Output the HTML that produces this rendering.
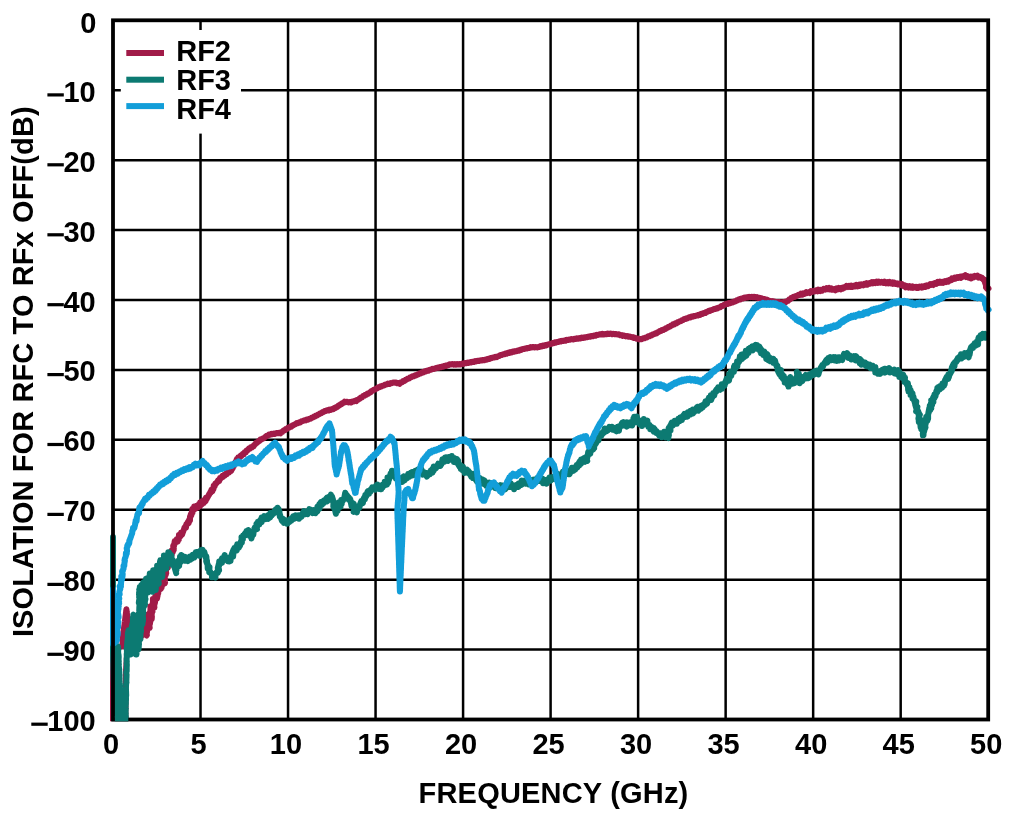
<!DOCTYPE html>
<html><head><meta charset="utf-8"><title>Isolation vs Frequency</title>
<style>
html,body{margin:0;padding:0;background:#fff;}
body{width:1033px;height:824px;position:relative;overflow:hidden;font-family:"Liberation Sans",sans-serif;}
.t{font-family:"Liberation Sans",sans-serif;font-weight:bold;font-size:29px;fill:#000;}
</style></head><body>
<svg width="1033" height="824" viewBox="0 0 1033 824" style="position:absolute;left:0;top:0;will-change:transform">
<rect x="0" y="0" width="1033" height="824" fill="#ffffff"/>
<defs><clipPath id="pc"><rect x="109" y="10" width="885" height="711.3"/></clipPath></defs>
<g stroke="#000" stroke-width="2.5"><line x1="200.52" y1="20.3" x2="200.52" y2="719.5"/><line x1="288.04" y1="20.3" x2="288.04" y2="719.5"/><line x1="375.56" y1="20.3" x2="375.56" y2="719.5"/><line x1="463.08" y1="20.3" x2="463.08" y2="719.5"/><line x1="550.60" y1="20.3" x2="550.60" y2="719.5"/><line x1="638.12" y1="20.3" x2="638.12" y2="719.5"/><line x1="725.64" y1="20.3" x2="725.64" y2="719.5"/><line x1="813.16" y1="20.3" x2="813.16" y2="719.5"/><line x1="900.68" y1="20.3" x2="900.68" y2="719.5"/><line x1="113.0" y1="90.22" x2="988.2" y2="90.22"/><line x1="113.0" y1="160.14" x2="988.2" y2="160.14"/><line x1="113.0" y1="230.06" x2="988.2" y2="230.06"/><line x1="113.0" y1="299.98" x2="988.2" y2="299.98"/><line x1="113.0" y1="369.90" x2="988.2" y2="369.90"/><line x1="113.0" y1="439.82" x2="988.2" y2="439.82"/><line x1="113.0" y1="509.74" x2="988.2" y2="509.74"/><line x1="113.0" y1="579.66" x2="988.2" y2="579.66"/><line x1="113.0" y1="649.58" x2="988.2" y2="649.58"/></g>
<rect x="120.8" y="30" width="120.2" height="103.6" fill="#fff"/>
<polyline clip-path="url(#pc)" points="113.0,645.0 113.0,646.3 113.0,647.6 113.0,648.9 113.0,650.2 113.0,651.5 113.0,652.8 113.0,654.1 113.0,655.4 113.0,656.7 113.0,658.0 113.0,659.2 113.0,660.5 113.0,661.8 113.0,663.1 113.0,664.4 113.0,665.7 113.0,667.0 113.0,668.3 113.0,669.6 113.0,670.9 113.0,672.2 113.0,673.5 113.0,674.8 113.0,676.1 113.0,677.4 113.0,678.7 113.0,680.0 113.0,681.3 113.0,682.6 113.0,683.9 113.0,685.1 113.0,686.4 113.0,687.7 113.0,689.0 113.0,690.3 113.0,691.6 113.0,692.9 113.0,694.2 113.0,695.5 113.0,696.8 113.0,698.1 113.0,699.4 113.0,700.7 113.0,702.0 113.0,703.3 113.0,704.6 113.0,705.9 113.0,707.2 113.0,708.5 113.0,709.8 113.0,711.0 113.0,712.3 113.0,713.6 113.0,714.9 113.0,716.2 113.0,717.5 113.0,718.8 113.0,720.1 113.0,721.4 113.0,722.7 113.0,724.0 114.4,724.0 115.7,724.0 117.1,724.0 118.5,724.0 119.8,724.0 121.2,724.0 122.6,724.0 123.9,724.0 125.3,724.0 125.3,722.7 125.3,721.4 125.3,720.1 125.4,718.8 125.4,717.5 125.4,716.1 125.4,714.8 125.4,713.5 125.4,712.2 125.4,710.9 125.4,709.6 125.5,708.3 125.5,707.0 125.5,705.7 125.5,704.4 125.5,703.1 125.5,701.7 125.5,700.4 125.5,699.1 125.6,697.8 125.6,696.5 125.6,695.2 125.6,693.9 125.6,692.6 125.6,691.3 125.6,690.0 125.6,688.7 125.7,687.3 125.7,686.0 125.7,684.7 125.7,683.4 125.7,682.1 125.7,680.8 125.7,679.5 125.7,678.2 125.8,676.9 125.8,675.6 125.8,674.3 125.8,672.9 125.8,671.6 125.8,670.3 125.8,669.0 125.8,667.7 125.9,666.4 125.9,665.1 125.9,663.8 125.9,662.5 125.9,661.2 125.9,659.9 125.9,658.5 125.9,657.2 126.0,655.9 126.0,654.6 126.0,653.3 126.0,652.0 125.5,650.9 125.0,649.7 124.5,648.6 124.1,647.4 123.6,646.3 123.1,645.1 122.6,644.0 122.6,642.8 122.6,641.6 122.6,640.4 122.6,639.2 122.6,638.0 122.8,636.7 123.0,635.3 123.2,634.0 123.4,632.7 123.5,631.3 123.7,630.0 123.9,628.7 124.1,627.3 124.3,626.0 124.5,624.7 124.6,623.4 124.8,622.1 124.9,620.9 125.1,619.6 125.3,618.3 125.4,617.0 125.6,615.7 125.8,614.4 125.9,613.2 126.1,611.9 126.2,610.6 126.4,609.3 126.6,610.6 126.7,611.8 126.9,613.1 127.0,614.4 127.2,615.6 127.4,616.9 127.9,617.4 127.7,619.9 127.5,619.9 127.8,622.8 128.1,622.8 128.2,625.2 128.5,624.5 128.2,627.4 128.5,627.7 128.4,630.7 128.9,630.4 128.6,633.0 129.1,632.8 128.9,635.4 128.7,635.4 129.3,638.1 129.8,637.8 129.4,640.7 130.1,640.2 130.4,643.0 130.7,643.2 131.6,646.0 131.6,645.9 132.5,648.6 132.4,648.4 132.8,650.7 133.4,647.9 133.8,648.4 134.5,646.3 135.0,646.5 135.6,643.6 136.7,643.7 136.5,641.4 137.7,642.4 137.9,639.6 139.3,639.8 139.7,637.1 140.5,637.4 141.8,635.3 141.4,635.4 141.7,632.6 142.5,632.9 142.5,630.0 142.4,630.0 142.6,627.5 143.0,627.5 143.5,624.8 143.8,625.1 143.6,622.1 144.0,622.3 144.0,619.9 144.1,620.0 144.2,617.3 144.7,620.4 144.4,620.2 145.0,623.0 145.2,622.8 145.0,625.4 145.0,625.1 145.5,627.8 145.4,627.6 145.7,630.4 146.4,630.0 146.4,632.6 146.5,632.3 146.5,635.3 146.9,635.0 146.6,635.5 146.8,632.6 146.9,632.6 147.3,629.9 147.2,630.0 147.8,627.2 147.5,627.4 147.5,624.5 147.7,624.7 147.9,622.0 147.9,622.5 147.4,619.9 147.9,619.7 148.0,616.8 148.3,617.0 147.7,614.5 148.1,617.2 148.6,617.1 148.3,619.8 148.3,619.4 148.4,621.9 149.2,621.7 148.9,624.8 149.3,625.1 149.7,627.8 149.6,628.1 149.4,628.1 149.3,624.6 149.8,624.5 150.2,622.3 150.1,622.6 149.5,620.0 149.7,619.7 150.4,616.8 150.2,617.2 150.5,614.4 150.2,614.6 150.0,612.2 150.6,612.6 150.4,609.4 150.4,609.6 150.6,606.6 150.7,606.6 150.2,606.3 151.0,609.4 151.0,609.5 151.0,612.3 150.6,611.7 151.2,614.3 151.6,614.3 151.4,616.9 151.1,616.6 151.7,619.2 151.9,616.6 151.4,616.6 151.8,613.9 151.7,614.1 151.7,611.4 152.5,611.7 152.3,608.9 152.1,609.3 152.1,606.8 152.8,607.0 152.7,604.3 152.6,604.6 152.9,602.0 153.0,602.2 152.9,599.1 153.2,602.2 153.0,602.1 153.9,605.2 153.9,605.0 153.8,607.7 153.8,607.3 154.4,607.4 154.1,604.5 154.3,604.9 155.0,602.4 154.7,602.4 154.6,599.0 155.2,598.9 155.2,596.4 155.6,596.5 155.7,596.1 156.7,599.0 156.8,598.6 157.0,598.6 157.5,595.8 157.6,595.8 157.8,592.9 158.3,592.9 157.8,590.2 158.5,590.4 159.8,586.5 160.8,588.9 159.9,584.7 161.6,587.7 161.6,584.2 162.0,585.9 162.9,580.7 164.9,583.3 164.8,579.1 165.1,582.1 164.7,576.3 164.4,577.1 165.8,572.7 165.8,574.6 165.5,570.3 166.2,573.1 164.6,569.1 166.0,571.2 166.3,566.1 167.9,567.7 167.6,564.0 167.2,566.3 169.1,562.2 169.2,563.6 169.5,559.1 169.6,559.9 171.4,555.0 170.8,557.0 170.7,553.1 171.7,554.9 171.7,550.6 172.8,552.1 173.7,547.9 173.9,549.6 173.2,545.6 173.3,548.5 173.8,544.5 174.1,545.9 174.7,541.0 175.2,543.1 176.6,539.3 177.7,541.5 178.8,537.3 178.9,539.3 178.9,534.9 180.6,536.2 181.1,532.5 182.0,534.8 183.2,531.3 183.0,532.1 184.5,527.6 184.1,529.1 185.7,525.9 186.0,527.7 186.4,524.2 186.5,525.2 187.9,521.8 188.7,523.2 189.2,519.5 190.0,520.4 190.1,516.4 190.0,517.7 190.9,514.0 191.3,515.5 191.9,511.6 192.5,512.6 192.4,509.0 193.9,509.4 194.2,506.6 195.8,508.5 196.8,505.8 198.0,507.3 198.8,504.4 200.3,505.7 200.2,502.6 202.3,503.9 202.1,501.2 203.9,502.9 204.6,499.9 205.7,501.1 206.0,497.8 206.7,499.1 208.0,496.1 207.7,497.1 209.3,493.9 209.0,495.0 210.4,491.9 210.6,492.8 211.4,489.8 212.4,491.3 212.6,489.0 213.4,489.2 213.7,485.7 214.6,486.3 215.2,483.7 215.3,484.6 216.9,482.1 216.8,483.1 218.1,480.3 219.3,480.8 220.0,478.1 220.7,478.6 222.3,476.0 222.8,477.1 224.1,474.8 224.6,475.7 226.2,473.5 226.6,474.3 227.7,472.1 229.1,472.4 229.9,470.2 231.2,470.9 231.7,468.3 232.5,468.7 233.2,466.3 233.6,466.3 233.9,463.9 234.7,464.0 235.8,461.3 236.1,461.3 236.8,459.1 238.0,459.3 238.3,457.2 239.8,457.5 240.7,455.5 241.4,456.0 242.6,454.1 243.7,454.3 244.5,452.3 245.8,452.3 246.5,450.5 247.5,450.4 248.9,448.5 249.9,448.7 250.6,447.3 251.9,447.4 252.7,446.3 253.5,446.4 254.7,444.5 255.4,444.2 256.2,442.6 257.2,442.6 258.5,441.2 259.4,441.0 260.4,439.6 261.5,439.5 262.8,438.4 263.8,438.4 264.9,437.1 265.7,436.9 266.7,435.7 268.0,435.7 269.0,434.5 270.3,434.8 271.4,433.8 272.7,434.2 274.0,433.5 275.1,433.9 276.4,433.0 277.8,433.3 279.1,432.7 280.4,433.4 281.4,432.1 282.4,431.8 283.4,430.5 284.7,430.3 285.7,429.0 286.8,429.0 287.8,427.8 289.0,427.8 290.1,426.8 291.3,426.7 292.3,425.6 293.3,425.5 294.4,424.4 295.3,424.3 296.6,423.1 298.0,423.3 299.2,422.3 300.6,422.4 301.6,421.2 303.0,421.1 304.3,420.2 305.7,420.4 306.7,419.4 308.1,419.7 309.4,418.7 310.6,418.8 311.6,417.7 312.8,417.6 313.9,416.5 314.8,416.5 316.1,415.5 317.1,415.4 318.3,414.4 319.1,414.3 320.3,413.2 321.4,413.2 322.5,412.1 323.6,412.1 324.6,411.0 325.6,411.0 326.8,410.2 328.4,410.6 329.4,409.6 330.9,409.9 332.0,409.1 333.2,409.3 334.2,408.1 335.4,408.0 336.3,406.9 337.3,406.9 338.5,405.6 339.3,405.5 340.6,404.3 341.6,404.2 342.4,403.0 343.5,402.9 344.6,401.6 345.8,402.2 347.3,401.7 348.4,402.4 349.6,401.9 350.9,402.5 352.2,401.5 353.3,401.6 354.7,400.8 356.2,401.2 357.0,400.1 358.0,400.0 359.2,398.8 359.9,398.7 360.9,397.4 362.1,397.4 363.0,396.0 364.4,395.8 365.3,394.7 366.5,394.7 367.5,393.6 368.5,393.6 369.6,392.5 370.5,392.3 371.6,390.9 372.7,390.8 373.8,389.7 375.1,389.6 376.1,388.4 377.3,388.4 378.3,387.2 379.5,387.2 380.6,386.2 381.7,386.4 383.0,385.5 384.1,385.5 385.4,384.4 386.7,384.4 387.8,383.6 389.4,384.0 390.7,383.1 391.9,383.3 393.4,382.4 394.7,382.7 396.1,382.4 397.2,383.2 398.3,383.0 399.6,383.8 400.7,382.5 402.2,382.2 403.1,381.0 404.5,381.0 405.6,379.8 406.6,379.7 407.9,378.4 409.2,378.4 410.2,377.3 411.3,377.3 412.4,376.3 413.7,376.3 415.0,375.3 416.0,375.5 417.2,374.5 418.5,374.4 419.7,373.3 421.0,373.4 421.9,372.3 423.4,372.4 424.7,371.3 426.0,371.4 427.3,370.4 428.3,370.7 429.7,369.7 431.2,369.7 432.3,368.8 433.5,369.1 435.0,368.3 435.8,368.4 437.4,367.6 438.5,367.8 439.8,366.9 441.1,367.3 442.1,366.4 443.4,366.7 444.8,365.8 446.0,366.0 447.1,365.2 448.4,365.3 449.5,364.3 450.9,364.5 452.2,364.0 453.5,364.7 454.7,364.1 455.7,364.7 457.1,364.1 458.3,364.6 459.5,363.9 460.7,364.4 462.1,363.6 463.5,363.9 464.6,363.0 466.1,363.2 467.3,362.6 468.6,363.0 469.6,362.2 470.9,362.5 472.4,361.7 473.7,362.1 475.1,361.1 476.2,361.5 477.6,360.7 478.8,361.1 480.3,360.3 481.5,360.6 482.7,359.9 484.2,360.2 485.4,359.4 486.8,359.7 488.2,358.8 489.2,359.0 490.6,358.0 491.7,358.2 493.1,357.4 494.2,357.6 495.3,356.8 496.8,357.2 498.1,356.2 499.0,356.1 500.5,355.0 501.5,355.1 503.0,354.2 504.2,354.3 505.2,353.5 506.5,353.8 507.8,352.8 509.1,353.0 510.3,352.1 511.7,352.4 512.7,351.5 513.9,351.8 515.1,351.1 516.6,351.3 517.6,350.4 519.1,350.7 520.1,349.7 521.4,349.9 522.7,349.0 524.0,349.1 525.2,348.4 526.6,348.6 527.7,347.9 529.0,348.1 530.6,347.1 531.7,347.4 533.1,346.9 534.5,347.4 535.6,347.0 537.1,347.5 538.2,347.0 539.5,347.0 540.5,346.1 541.8,346.4 542.8,345.5 544.2,345.9 545.3,345.1 546.3,345.4 547.7,344.4 549.0,344.6 550.2,343.7 551.3,344.0 552.5,343.0 553.7,343.3 554.9,342.3 555.9,342.7 556.9,341.9 558.2,342.1 559.5,341.2 560.8,341.5 562.0,340.7 563.1,341.1 564.1,340.4 565.5,340.7 566.8,339.8 567.9,340.1 569.2,339.4 570.3,339.7 571.6,339.0 573.1,339.5 574.2,338.7 575.3,339.1 576.6,338.3 577.9,338.8 579.2,338.1 580.2,338.5 581.5,337.6 582.8,338.0 584.1,337.3 585.1,337.7 586.6,336.9 587.6,337.2 588.9,336.4 590.1,336.7 591.5,336.0 592.8,336.3 593.9,335.5 595.5,335.7 596.8,334.8 598.1,335.1 599.5,334.2 601.1,334.5 602.5,333.8 603.8,334.5 605.2,333.9 606.4,334.2 607.8,333.5 609.2,334.0 610.5,333.5 612.1,334.2 613.2,333.7 614.7,334.3 616.0,333.9 617.6,334.6 619.0,334.3 620.3,335.3 621.7,335.1 622.9,335.9 624.3,335.6 625.8,336.4 627.1,336.0 628.6,336.7 630.0,336.4 631.4,337.3 632.8,337.1 634.0,338.0 635.2,337.8 636.7,338.8 638.1,338.6 639.2,339.4 640.4,339.1 641.8,339.2 643.0,338.3 644.4,338.3 645.6,337.4 646.9,337.5 648.1,336.3 649.3,336.3 650.6,335.3 651.6,335.4 653.1,334.2 654.1,334.3 655.3,333.3 656.7,333.4 657.5,332.2 658.7,332.1 659.7,331.0 661.0,331.1 661.9,330.1 663.1,330.1 664.4,329.0 665.4,329.0 666.3,327.9 667.5,327.8 668.6,326.7 669.7,326.7 671.0,325.5 672.0,325.4 672.9,324.3 674.3,324.4 675.3,323.3 676.5,323.3 677.5,322.3 678.4,322.2 679.6,321.3 680.7,321.3 681.9,320.2 682.8,320.1 684.1,319.0 685.3,319.1 686.5,318.2 687.4,318.4 688.9,317.3 690.1,317.5 691.4,316.5 692.4,316.8 693.7,315.9 694.9,316.3 696.3,315.4 697.7,315.6 698.7,314.8 700.1,315.0 701.3,313.8 702.6,313.9 703.7,313.0 705.2,313.1 706.3,311.9 707.6,311.8 708.8,310.7 710.1,310.9 711.5,309.9 712.8,309.9 713.9,308.9 715.0,309.1 716.3,308.3 717.6,308.4 718.9,307.4 720.3,307.3 721.4,306.1 722.7,306.0 724.1,304.8 725.4,304.7 726.4,303.7 727.9,304.0 728.9,303.0 730.4,303.2 731.6,302.3 732.8,302.5 734.0,301.5 735.5,301.4 736.6,300.3 737.8,300.4 739.0,299.3 740.5,299.4 741.5,298.4 742.9,298.5 744.3,297.5 745.3,298.0 746.7,297.2 747.9,297.5 749.1,296.8 750.6,297.2 751.8,296.8 753.0,297.3 754.1,296.7 755.6,297.4 756.9,297.1 758.0,298.0 759.2,297.7 760.6,298.5 761.8,298.3 763.0,299.2 764.3,299.0 765.8,299.8 766.8,299.6 768.3,300.6 769.2,300.6 770.8,301.4 772.0,301.0 773.2,301.7 774.4,301.4 775.6,302.3 776.9,301.9 778.2,302.4 779.6,302.0 780.7,302.7 781.9,302.2 783.3,302.5 784.5,301.8 785.7,302.2 787.0,301.2 788.0,300.9 789.1,299.5 790.0,299.4 791.1,298.0 792.3,297.9 793.5,296.8 794.8,296.9 795.8,295.9 797.3,295.9 798.5,294.8 799.8,294.9 800.9,293.7 802.3,294.7 803.3,293.3 804.4,293.9 806.2,292.1 807.0,293.1 808.4,292.2 809.7,293.1 810.8,291.2 812.1,291.9 813.6,290.7 814.8,291.5 816.5,290.1 817.7,291.2 818.3,289.6 820.2,291.0 821.0,289.8 822.2,290.7 823.7,288.8 825.4,289.6 826.6,288.2 827.5,289.1 828.9,288.0 829.8,289.4 831.2,288.3 832.4,289.8 834.1,289.0 835.5,290.3 836.5,288.5 837.8,289.4 838.7,288.0 840.6,289.4 841.5,287.9 842.7,288.7 843.8,287.2 845.0,287.7 846.5,285.9 847.9,287.0 849.1,285.8 850.4,286.9 851.4,285.6 852.6,286.8 854.3,285.5 855.2,286.3 856.4,284.9 857.6,286.3 859.3,284.7 860.0,285.8 861.4,284.3 863.3,285.3 864.4,283.8 865.7,284.6 866.6,283.2 867.7,284.5 869.4,283.0 870.2,283.6 871.9,282.1 872.8,283.2 873.9,282.1 875.2,283.1 876.6,281.7 877.8,282.8 878.9,281.7 880.5,282.7 881.6,281.8 883.1,283.0 884.4,281.8 885.8,283.3 887.2,282.1 888.4,283.4 889.6,282.0 891.0,283.4 892.3,282.4 893.0,283.8 894.2,282.7 895.5,284.0 896.8,283.3 898.1,284.5 899.5,283.5 901.1,285.1 902.1,284.2 903.3,285.9 904.7,285.4 905.6,287.3 907.0,286.1 908.3,287.5 909.5,286.3 910.8,287.7 912.3,286.5 913.1,287.8 915.0,286.8 916.3,287.8 916.9,286.8 918.3,287.8 919.6,286.5 921.3,287.6 921.9,286.3 923.1,287.3 924.9,285.8 925.7,286.7 927.0,285.3 928.2,286.1 930.1,284.3 930.7,285.0 932.3,283.9 933.4,285.0 934.9,283.1 936.4,283.8 937.5,282.0 938.8,282.9 939.9,281.6 941.0,282.8 942.1,281.8 943.1,282.8 945.0,281.1 945.9,282.0 947.4,280.7 948.4,281.6 949.8,279.7 951.2,280.2 951.9,278.4 953.3,279.2 954.7,277.6 955.6,278.5 957.2,277.0 958.4,277.9 960.1,276.6 960.8,277.8 962.4,276.2 963.4,276.7 965.2,275.2 966.1,277.0 967.3,276.1 968.7,277.7 970.3,276.7 971.0,278.4 972.5,276.7 973.5,277.4 974.9,275.9 976.6,276.7 977.5,275.8 978.5,277.7 979.9,276.9 981.4,278.1 982.1,277.9 983.7,280.1 984.7,279.8 985.1,282.0 984.9,282.3 985.8,284.8 986.1,284.9 986.0,287.4 986.2,287.6 987.4,289.0 988.5,288.4" fill="none" stroke="#a11b48" stroke-width="6.0" stroke-linejoin="round" stroke-linecap="round"/>
<polygon points="119.8,649.5 124.4,649.5 122.7,675" fill="#fff"/>
<polyline clip-path="url(#pc)" points="113.0,537.0 113.0,538.3 113.0,539.6 113.0,540.9 113.0,542.2 113.0,543.5 113.0,544.8 113.0,546.1 113.0,547.4 113.0,548.7 113.0,550.0 113.0,551.3 113.0,552.6 113.0,553.9 113.0,555.2 113.0,556.5 113.0,557.8 113.0,559.1 113.0,560.4 113.0,561.7 113.0,563.0 113.0,564.3 113.0,565.6 113.0,566.9 113.0,568.2 113.0,569.5 113.0,570.8 113.0,572.1 113.0,573.4 113.0,574.7 113.0,576.0 113.0,577.3 113.0,578.6 113.0,579.9 113.0,581.2 113.0,582.5 113.0,583.8 113.0,585.1 113.0,586.4 113.0,587.7 113.0,589.0 113.0,590.3 113.0,591.6 113.0,592.9 113.0,594.1 113.0,595.4 113.0,596.7 113.0,598.0 113.0,599.3 113.0,600.6 113.0,601.9 113.0,603.2 113.0,604.5 113.0,605.8 113.0,607.1 113.0,608.4 113.0,609.7 113.0,611.0 113.0,612.3 113.0,613.6 113.0,614.9 113.0,616.2 113.0,617.5 113.0,618.8 113.0,620.1 113.0,621.4 113.0,622.7 113.0,624.0 113.0,625.3 113.0,626.6 113.0,627.9 113.0,629.2 113.0,630.5 113.0,631.8 113.0,633.1 113.0,634.4 113.0,635.7 113.0,637.0 113.0,638.3 113.0,639.6 113.0,640.9 113.0,642.2 113.0,643.5 113.0,644.8 113.0,646.1 113.0,647.4 113.0,648.7 113.0,650.0 113.0,651.3 113.1,652.6 113.1,653.9 113.1,655.2 113.2,656.5 113.2,657.8 113.2,659.1 113.3,660.4 113.3,661.7 113.4,663.0 113.4,664.3 113.4,665.6 113.5,666.9 113.5,668.2 113.5,669.5 113.6,670.8 113.6,672.1 113.6,673.4 113.7,674.7 113.7,676.0 113.7,677.3 113.8,678.6 113.8,679.9 113.8,681.2 113.9,682.5 113.9,683.8 113.9,685.1 114.0,686.4 114.0,687.6 114.1,688.9 114.1,690.2 114.1,691.5 114.2,692.8 114.2,694.1 114.2,695.4 114.3,696.7 114.3,698.0 114.3,699.3 114.4,700.6 114.4,701.9 114.4,703.2 114.5,704.5 114.5,705.8 114.5,707.1 114.6,708.4 114.6,709.7 114.6,711.0 114.7,712.3 114.7,713.6 114.8,714.9 114.8,716.2 114.8,717.5 114.9,718.8 114.9,720.1 114.9,721.4 115.0,722.7 115.0,724.0 116.3,724.5 116.6,722.4 116.7,721.6 116.4,719.5 116.5,719.1 116.8,717.2 116.6,716.7 116.7,714.7 116.9,713.9 116.6,712.1 116.5,711.5 117.0,709.4 116.6,708.6 116.9,706.6 116.8,706.1 116.7,704.3 116.8,703.5 116.9,701.6 116.9,700.9 116.8,699.0 116.8,698.5 116.9,696.4 116.9,695.5 117.1,693.6 117.0,693.0 117.0,691.1 117.3,690.4 117.0,688.4 117.0,687.7 117.2,685.8 117.5,685.2 117.4,683.4 117.5,682.9 117.1,680.9 117.4,680.1 117.2,678.1 117.5,677.5 117.5,675.6 117.2,675.0 117.7,673.1 117.6,672.5 117.6,670.5 117.7,669.9 117.4,667.9 117.8,667.1 117.7,665.1 117.8,664.6 117.9,662.7 117.9,661.9 117.9,659.9 117.8,659.2 117.6,657.3 117.6,656.7 117.9,654.8 117.8,654.3 118.0,652.4 117.9,651.6 118.0,649.7 118.0,649.0 118.0,647.0 117.8,646.4 117.9,646.9 117.9,648.7 118.3,649.5 118.1,651.7 118.2,652.3 118.1,653.9 118.5,654.6 118.7,656.6 118.7,657.3 118.6,659.2 118.6,659.8 118.8,661.6 118.6,662.5 118.9,664.6 118.6,665.3 118.9,667.1 119.0,667.8 119.3,669.7 119.0,670.2 119.3,672.2 119.2,673.1 119.5,675.0 119.5,675.5 119.3,677.3 119.5,678.2 119.4,680.4 119.5,680.9 119.7,682.7 119.8,683.3 119.9,685.3 120.0,686.2 119.7,688.1 120.1,688.7 119.9,690.6 120.2,691.4 120.1,693.4 120.1,694.0 120.2,695.8 120.3,696.5 120.2,698.5 120.6,699.3 120.3,701.2 120.3,701.7 120.8,703.5 120.7,704.2 120.5,706.2 120.8,706.9 120.8,708.8 120.8,709.5 120.9,711.4 120.9,712.0 121.0,714.0 121.3,714.8 121.0,716.7 121.2,717.3 121.4,719.1 121.5,719.8 121.3,721.9 121.4,722.6 121.4,724.3 122.8,723.5 124.2,724.1 125.5,723.5 125.6,722.8 125.5,721.0 125.7,720.3 125.5,718.4 125.6,717.8 125.8,715.9 125.6,715.2 125.8,713.3 125.5,712.5 125.7,710.5 125.6,709.9 125.9,708.3 125.8,707.6 125.6,705.6 125.8,704.8 125.9,702.9 125.8,702.4 125.9,700.5 126.0,699.9 126.0,698.0 125.8,697.3 126.2,695.5 126.2,694.8 126.1,692.8 126.1,692.2 126.0,690.2 126.0,689.6 125.9,687.7 126.0,686.7 126.1,684.6 126.1,684.1 126.5,682.4 126.3,681.7 126.4,679.8 126.4,679.2 126.5,677.2 126.5,676.5 126.6,674.6 126.4,674.0 126.2,672.1 126.7,671.3 126.7,669.2 126.7,668.5 126.7,666.5 126.8,665.9 126.8,664.0 126.6,663.4 126.8,661.4 126.7,660.8 126.6,658.8 126.7,658.3 126.9,656.2 126.8,655.7 126.7,654.0 126.9,653.3 126.9,651.1 126.9,650.3 126.7,648.4 127.0,647.8 127.1,645.9 127.0,645.1 127.3,643.2 127.2,642.5 127.4,640.7 127.6,640.1 127.7,638.2 128.0,637.7 128.0,635.9 127.8,635.9 127.9,633.2 127.9,632.8 128.9,630.3 128.5,630.2 129.0,630.2 129.2,632.9 128.5,632.9 129.1,635.6 129.4,635.9 129.6,638.8 128.9,638.8 129.7,641.4 129.9,641.3 129.8,643.9 130.0,643.9 130.1,646.4 129.4,646.5 130.2,649.1 130.2,649.0 129.9,651.4 129.9,651.6 130.8,654.5 130.0,654.4 130.9,654.3 130.3,651.9 130.8,651.8 130.7,649.3 130.7,649.2 130.5,647.0 130.6,647.1 130.8,644.2 131.3,643.9 131.2,641.4 131.2,641.5 131.7,638.9 131.2,638.6 131.3,636.0 131.7,635.9 131.3,633.3 131.6,633.3 131.6,630.7 132.3,630.8 131.8,628.0 131.8,628.1 132.0,625.5 131.9,625.8 132.5,623.6 132.7,623.5 133.0,620.8 132.9,620.8 132.8,617.9 133.0,617.6 133.6,614.9 133.3,614.7 133.3,614.8 133.4,617.4 133.3,617.4 133.8,620.2 133.5,620.0 133.8,622.7 134.1,623.0 133.8,625.8 134.0,625.9 133.9,628.5 133.6,628.3 133.7,630.7 134.0,630.7 134.0,633.6 134.2,633.7 134.2,636.5 133.7,636.7 134.5,639.3 133.9,639.2 134.3,641.6 134.6,641.5 134.5,643.9 134.4,643.8 134.0,646.4 134.7,646.5 134.1,649.2 134.5,649.4 134.7,652.1 135.1,652.0 135.9,654.6 136.0,654.6 136.5,654.5 136.5,651.7 136.1,651.7 136.9,648.9 136.9,649.3 136.2,647.0 136.8,647.0 136.9,644.2 137.1,643.8 137.0,641.4 136.5,641.4 137.3,638.7 137.0,638.5 137.1,635.9 136.8,635.6 137.3,633.0 137.6,633.0 137.3,630.6 137.9,630.7 137.9,630.4 138.1,632.9 137.6,633.1 137.8,636.0 138.1,636.1 138.3,638.8 138.1,639.1 137.6,641.6 137.7,641.6 138.3,644.1 138.4,643.7 138.0,646.1 138.8,646.3 138.6,648.9 138.2,649.1 138.2,649.4 138.2,647.0 138.4,647.1 138.1,644.4 139.0,644.4 138.8,641.4 138.6,641.3 138.5,639.2 138.2,639.4 138.6,636.9 138.5,636.8 138.5,634.0 138.8,633.9 138.7,631.4 139.2,631.4 138.7,629.0 138.7,628.9 138.5,626.0 139.1,625.8 139.3,623.6 138.6,623.9 138.6,621.5 138.9,621.1 138.5,618.2 139.2,618.2 138.6,615.9 139.1,615.8 138.6,613.6 139.2,613.7 139.6,610.9 139.2,610.8 139.3,608.2 139.3,607.8 139.5,604.9 139.6,605.0 139.5,602.8 138.8,602.8 139.1,600.3 139.2,600.3 139.8,597.8 139.1,597.5 139.3,594.9 139.0,594.5 139.2,592.1 139.1,592.5 139.8,590.2 139.6,590.0 139.8,587.1 139.9,589.7 139.2,589.5 139.7,592.1 140.0,592.4 140.0,595.2 140.0,595.2 139.9,597.4 139.6,597.2 140.1,600.0 139.3,600.2 139.6,602.8 139.5,602.6 140.3,605.1 139.6,605.5 139.8,608.6 140.0,608.7 140.1,611.2 140.0,611.2 139.8,613.7 140.0,613.5 140.1,616.0 139.7,615.9 140.6,618.4 140.1,618.5 139.8,621.1 140.3,621.3 140.4,624.2 139.9,624.2 140.3,626.5 140.2,626.1 140.5,628.8 140.0,629.1 140.7,631.8 140.9,631.6 140.4,634.0 140.1,634.0 140.3,636.5 140.2,636.5 140.2,639.4 140.3,639.3 140.2,639.4 140.3,636.7 140.5,636.5 140.5,633.7 140.5,633.8 140.8,631.0 141.1,631.1 140.5,628.5 141.0,628.4 140.9,625.7 141.3,625.9 140.6,623.9 140.7,623.6 141.2,620.7 140.9,620.4 140.9,618.2 141.4,618.3 140.7,615.8 140.6,616.1 141.2,613.6 140.9,613.3 140.7,610.7 140.9,610.7 141.2,607.8 141.6,607.7 140.7,604.9 140.9,604.9 140.9,602.5 141.0,602.5 141.4,600.1 141.2,600.1 141.8,597.6 141.4,597.5 141.6,595.0 141.6,595.2 141.9,592.2 141.3,591.9 141.9,589.5 141.3,589.8 141.9,587.3 141.9,587.4 141.4,584.9 141.9,587.3 141.7,586.8 141.8,589.4 141.9,589.8 141.5,592.4 142.3,592.2 141.5,594.7 141.7,594.6 141.5,597.3 141.6,597.4 142.3,599.9 141.8,599.8 141.8,602.6 142.5,603.1 141.8,605.6 141.9,605.2 141.7,607.4 141.9,607.6 142.5,610.3 142.1,610.2 142.2,612.8 142.2,612.8 142.8,615.6 142.6,616.0 142.2,618.6 142.8,618.5 143.0,621.0 142.3,621.1 142.5,623.8 142.3,621.1 143.0,620.8 142.9,618.1 143.1,618.1 142.4,615.8 142.5,615.7 143.2,613.0 143.3,613.0 142.9,610.4 143.1,610.3 142.8,607.9 143.3,608.1 143.3,605.6 143.3,605.9 143.0,603.5 143.0,603.3 143.2,600.8 143.2,600.9 143.2,597.9 142.9,597.8 143.7,595.2 142.8,595.3 143.6,592.8 143.6,592.9 143.5,590.3 143.2,590.4 143.8,588.3 143.8,588.1 143.2,585.6 143.3,585.4 143.1,582.6 143.3,582.4 143.3,582.5 143.8,585.3 144.0,585.5 144.2,588.2 143.8,588.3 143.9,590.9 144.1,590.9 144.3,593.4 144.5,593.3 143.7,595.9 143.8,596.0 144.2,598.6 144.6,598.5 144.7,601.0 144.0,601.1 144.2,603.6 144.7,603.6 144.2,606.2 145.1,603.9 145.1,604.0 144.5,601.5 144.8,601.7 145.5,599.0 144.9,598.8 145.2,596.2 144.9,596.0 145.1,593.2 145.4,593.2 146.0,590.6 145.6,590.6 145.8,588.5 145.7,588.5 146.2,586.1 146.0,585.6 145.8,582.9 146.3,583.0 146.5,580.5 146.7,580.8 146.1,578.6 146.8,581.4 147.2,581.4 147.5,583.8 147.0,584.1 147.8,586.7 147.4,586.7 147.8,589.1 148.1,589.0 147.7,591.9 148.0,592.4 148.3,592.3 148.7,589.6 148.9,589.3 148.6,586.9 149.0,587.1 148.6,584.4 149.4,583.9 148.8,581.1 149.1,581.3 149.2,579.1 149.6,578.9 150.0,576.2 149.6,576.0 149.8,573.5 150.1,576.3 150.1,576.2 150.3,578.8 150.7,578.7 150.6,581.1 151.1,581.2 150.9,583.9 151.3,584.2 151.3,586.7 151.8,586.7 151.7,589.1 151.9,589.2 152.0,591.7 152.4,591.8 152.5,591.6 152.2,589.0 152.5,589.0 152.2,586.1 152.9,586.1 152.9,583.4 153.0,583.2 153.0,580.7 152.4,580.7 152.9,578.2 153.0,578.2 153.3,575.5 153.1,575.7 153.3,573.4 153.7,573.2 153.4,570.4 154.0,570.2 153.2,570.3 154.0,573.2 153.7,573.3 153.5,575.9 153.8,576.1 154.2,578.6 154.8,578.5 154.0,581.0 154.9,581.1 155.0,583.7 154.8,583.9 155.4,586.5 155.3,586.7 155.3,589.5 155.5,589.9 155.7,589.9 155.9,587.3 155.7,587.2 156.0,584.4 155.3,584.5 155.6,581.7 155.6,581.7 156.0,579.0 156.4,579.1 156.6,576.4 156.8,576.1 156.8,573.3 156.1,573.6 156.8,571.4 156.7,571.2 157.0,568.3 157.2,568.2 157.1,565.7 157.1,566.0 157.6,565.8 157.6,568.2 156.9,568.0 157.9,570.4 157.0,570.4 157.9,572.9 157.6,572.8 158.2,575.3 157.7,575.3 158.0,577.9 158.1,577.9 158.5,580.7 158.5,580.7 158.6,583.2 158.5,583.4 158.8,583.6 158.5,581.1 158.5,581.2 158.6,578.4 159.1,578.4 158.9,575.8 158.9,576.0 159.7,573.6 159.1,573.2 159.1,570.5 159.4,570.5 159.4,568.1 160.2,568.2 160.2,565.3 160.3,565.4 159.9,562.7 159.8,562.9 160.3,560.3 160.8,560.7 160.4,560.9 161.0,563.8 160.7,563.8 161.1,566.4 160.9,566.0 161.3,568.7 161.6,568.9 161.3,571.9 162.0,572.0 162.1,574.4 162.1,574.6 162.2,577.0 162.5,574.2 161.8,574.2 162.0,571.6 162.6,571.7 162.8,568.9 162.6,568.6 162.6,566.1 163.5,565.8 163.5,563.3 163.3,563.2 163.6,560.4 163.8,560.6 163.8,558.1 164.3,558.1 163.9,555.5 164.5,558.1 164.0,558.0 164.5,560.6 164.8,560.5 164.9,562.9 164.7,563.0 165.8,565.5 165.8,565.3 165.7,567.9 166.3,568.3 166.5,568.5 166.2,565.5 167.0,565.3 167.1,562.6 166.8,562.4 167.5,559.9 167.6,559.7 167.7,557.3 168.2,557.2 167.5,554.9 168.3,555.0 168.3,552.3 170.2,555.9 169.1,552.6 171.0,557.2 171.2,555.0 172.1,561.4 171.9,558.9 171.8,563.5 172.8,560.1 172.8,564.9 172.8,562.5 174.1,566.7 174.7,565.0 175.8,570.2 174.7,568.0 176.2,573.2 175.2,568.9 176.5,569.9 176.6,563.9 178.1,566.5 178.0,563.2 179.2,565.9 178.4,560.7 180.3,562.4 181.3,558.0 180.1,561.2 180.0,556.7 180.9,559.1 181.3,555.0 184.2,559.4 184.5,556.7 184.5,560.7 185.7,557.2 186.1,560.8 185.9,558.5 187.8,561.1 189.8,556.5 190.3,559.8 192.2,556.0 192.0,558.7 192.8,554.7 194.5,557.4 195.7,552.4 196.9,555.2 196.7,552.1 199.8,555.7 199.0,551.5 201.2,554.0 201.2,550.0 201.7,552.3 202.6,549.8 203.5,554.1 204.4,552.1 205.4,556.2 204.4,553.9 205.9,558.3 206.4,556.5 206.6,562.2 207.0,560.5 207.0,563.6 206.2,561.2 207.9,565.8 207.6,563.9 207.7,568.4 209.5,567.1 209.2,572.2 209.1,569.6 210.7,573.3 209.8,571.1 212.6,575.4 211.9,573.7 212.0,577.3 214.7,575.3 215.5,577.7 215.3,574.1 214.6,576.3 217.0,571.6 217.9,572.7 218.1,568.4 219.1,570.4 218.3,565.9 217.8,567.9 219.0,563.3 219.2,565.3 219.2,561.4 220.4,563.4 221.2,559.9 222.0,562.9 222.2,558.3 223.3,559.1 224.7,555.1 224.4,559.4 225.6,557.4 227.6,561.0 228.7,557.8 229.2,561.5 230.2,559.3 230.5,561.0 229.3,557.3 230.6,559.9 232.1,555.3 233.1,556.6 233.6,551.8 231.9,553.8 233.5,549.6 233.1,551.9 234.3,548.2 236.8,550.3 236.3,546.4 237.2,548.6 237.3,544.3 239.0,547.6 239.6,543.8 240.1,545.6 241.1,540.8 241.9,542.7 241.5,537.3 242.9,539.3 243.0,535.6 242.4,538.6 244.8,533.6 245.0,535.4 246.5,531.1 247.8,533.9 248.3,530.0 249.9,532.4 248.6,531.1 249.6,536.0 250.7,534.2 251.4,538.5 252.6,533.6 253.3,534.9 253.8,530.7 253.5,532.6 254.6,527.8 254.4,530.5 256.6,527.2 257.1,529.1 256.4,523.9 257.3,525.4 257.8,521.8 259.3,524.5 260.3,520.0 261.8,522.1 261.7,517.6 262.6,519.9 264.1,516.1 265.9,519.0 267.3,515.9 268.2,518.8 268.5,514.9 270.3,517.3 270.4,513.0 272.0,515.2 273.9,511.6 273.6,513.7 275.7,509.4 276.8,511.8 277.6,507.8 278.5,512.1 278.5,509.0 277.6,512.6 279.4,511.3 279.8,516.4 279.9,514.2 281.0,518.3 280.1,515.7 282.0,520.9 282.9,518.8 283.8,522.9 285.9,520.4 286.9,523.7 288.2,520.7 287.7,523.5 289.7,519.4 289.4,522.1 292.3,517.8 291.4,520.5 293.2,516.3 294.3,518.8 295.6,515.4 297.4,517.9 298.4,515.3 299.0,518.8 300.6,515.0 301.6,516.7 302.9,512.6 302.4,515.1 303.9,511.1 305.8,514.0 307.0,511.4 307.6,514.2 309.3,509.2 309.4,511.8 310.4,509.5 312.8,513.1 313.8,510.1 315.6,513.1 316.1,509.5 317.3,511.4 317.4,506.7 319.6,508.6 319.3,504.0 319.0,506.0 320.9,502.0 322.1,504.7 323.7,500.7 323.9,503.0 326.1,498.6 327.1,501.4 327.3,497.6 328.2,500.3 329.4,496.5 329.6,498.8 330.9,494.5 331.2,498.1 331.9,496.2 333.3,500.7 332.6,498.9 333.6,503.9 334.1,502.4 333.3,506.7 333.4,503.8 333.9,508.0 334.7,506.6 335.6,511.3 334.7,508.9 335.9,513.8 336.8,509.5 337.6,511.0 337.1,506.1 337.8,508.6 339.5,504.8 340.5,506.8 338.8,502.2 341.7,504.0 341.3,499.9 341.5,502.1 344.2,498.0 342.9,500.8 344.8,496.3 344.3,497.7 345.2,492.8 347.8,497.5 347.2,495.5 348.7,499.7 348.8,497.3 350.5,500.9 350.2,498.9 351.4,504.2 350.9,503.0 351.6,506.3 353.8,503.7 354.2,508.4 355.0,507.2 353.6,511.9 354.9,509.9 356.9,512.4 357.5,508.2 356.5,510.9 358.2,506.4 359.2,507.9 360.6,503.4 359.6,505.3 361.3,501.1 362.9,503.0 363.6,499.3 362.4,501.3 364.2,497.4 364.9,499.4 365.3,495.0 366.4,496.2 367.4,491.8 367.6,494.4 368.3,491.0 369.1,493.6 370.6,489.7 370.6,491.6 372.2,487.4 375.2,489.7 375.9,485.7 377.5,488.2 377.5,484.5 379.0,488.9 381.1,485.8 381.3,489.2 381.9,485.1 382.5,487.7 384.8,482.9 384.8,485.3 384.7,481.8 387.0,484.4 388.4,480.4 388.3,482.3 387.5,477.4 388.8,480.3 390.0,476.5 389.5,478.6 390.6,473.5 391.7,475.7 392.0,470.8 391.9,475.0 394.8,472.7 395.0,476.5 396.5,474.0 396.0,478.4 397.6,477.1 397.8,480.9 399.7,478.0 401.2,481.9 401.3,480.0 402.5,481.8 403.9,477.9 404.6,480.3 403.8,476.2 405.2,478.6 407.8,475.6 407.2,478.1 408.1,474.1 409.4,476.8 410.7,472.9 412.7,475.2 412.4,472.0 414.5,474.8 415.4,470.9 417.7,472.8 418.0,469.4 419.7,471.7 420.7,467.6 422.1,472.0 421.8,470.0 422.9,474.7 424.1,472.3 426.9,476.6 426.0,473.1 427.9,475.5 429.9,471.8 429.9,474.3 430.8,470.5 432.5,472.7 432.6,468.8 433.6,470.9 433.8,466.5 435.8,468.5 438.0,464.9 436.9,467.2 438.2,463.7 440.4,465.9 441.9,462.1 441.7,463.9 442.4,459.2 444.9,461.5 445.2,457.4 446.2,460.4 446.8,457.4 448.1,460.9 448.9,457.0 452.1,459.3 451.9,456.1 452.8,460.3 454.6,458.3 454.0,462.1 457.0,459.1 456.7,462.7 458.2,460.6 458.3,464.7 457.5,463.2 459.9,467.3 460.6,465.1 460.9,469.1 462.9,466.6 462.4,470.3 464.2,468.8 464.6,472.9 467.2,469.8 468.1,473.0 468.5,470.9 470.3,475.0 469.7,472.5 471.2,476.6 473.2,474.0 473.0,478.0 473.5,476.4 476.3,480.5 476.6,477.5 477.0,481.4 480.0,478.2 480.4,482.3 482.4,479.5 481.9,483.5 484.7,480.8 484.1,484.2 485.6,482.0 486.2,485.8 489.2,482.8 489.2,485.9 491.0,483.2 491.0,486.9 493.5,484.4 495.2,488.0 495.2,484.6 495.8,488.2 496.9,485.6 498.3,488.2 500.3,485.1 502.5,488.1 502.7,485.6 505.2,489.3 506.1,485.8 505.8,488.5 508.5,484.6 510.0,486.9 510.8,483.2 512.2,487.2 513.7,485.3 514.1,489.3 515.5,485.3 516.3,486.7 518.3,483.6 518.5,487.0 520.0,483.2 521.7,484.8 521.8,480.6 523.1,483.4 524.5,480.6 525.5,483.6 527.2,480.8 528.6,484.5 528.6,480.7 530.3,483.6 530.7,480.1 532.2,483.4 533.6,479.7 535.8,482.3 536.9,478.2 537.6,481.2 540.6,477.9 540.3,481.1 542.7,478.9 543.1,483.2 545.4,480.5 546.5,483.7 547.1,479.7 547.7,481.7 549.3,477.7 550.5,480.7 551.3,477.3 551.1,480.1 553.7,476.6 553.6,478.9 555.7,475.2 557.7,477.4 557.3,473.5 559.5,477.3 560.9,474.2 561.4,476.7 562.8,471.9 564.0,474.6 566.7,471.0 568.3,474.0 567.4,470.8 569.5,474.2 569.5,470.4 570.9,472.2 571.9,467.7 573.4,470.8 574.9,467.4 575.2,469.6 576.7,465.0 577.3,467.5 578.8,462.9 579.2,465.5 579.8,461.2 581.1,463.8 581.2,459.6 584.8,461.8 583.8,458.2 587.3,460.9 585.6,457.2 586.9,459.4 587.9,454.6 587.6,456.4 588.2,451.8 590.3,453.8 589.9,449.8 591.1,451.3 590.7,446.9 593.2,449.3 591.9,445.8 594.2,448.2 593.6,443.9 594.5,445.7 595.9,441.6 595.8,443.8 597.8,439.1 598.5,440.3 598.7,435.8 599.0,438.1 599.2,433.6 601.1,436.0 602.8,432.0 602.3,434.3 604.6,430.3 604.1,432.6 604.6,428.6 606.8,431.0 608.6,427.8 608.0,430.2 609.3,426.9 612.2,429.5 612.0,426.8 615.0,430.3 616.2,427.6 616.7,431.4 617.2,427.5 619.0,430.6 618.4,426.5 619.7,427.8 622.0,423.0 622.2,425.8 623.7,422.2 625.2,425.6 625.9,422.9 626.8,426.6 626.8,422.2 629.7,425.1 630.2,422.3 632.2,425.4 633.3,421.8 633.4,422.9 633.4,418.5 634.5,420.3 634.3,416.7 636.4,418.9 636.9,416.5 637.1,420.8 637.1,418.6 636.9,422.3 638.6,420.0 639.9,424.5 641.3,422.0 642.0,426.1 640.7,423.4 641.8,425.5 643.3,421.6 644.2,423.7 643.9,419.1 645.9,423.5 647.4,420.7 647.7,425.3 647.4,422.4 648.3,426.8 649.6,425.0 650.1,429.2 651.7,426.9 653.3,430.9 653.7,428.0 653.9,431.7 654.7,429.1 656.4,433.0 656.5,430.9 659.3,435.7 659.8,434.3 661.6,437.2 660.6,433.2 662.9,435.7 664.1,431.7 663.1,435.4 665.6,433.1 665.3,437.4 666.5,435.5 668.4,438.1 668.2,433.7 668.9,435.4 668.6,430.1 668.1,431.9 668.7,427.8 670.5,430.6 670.2,425.4 669.8,427.1 671.7,422.7 672.9,425.4 674.6,420.9 673.7,423.6 676.4,420.8 676.8,423.8 678.3,418.9 679.9,421.1 680.5,417.3 681.8,420.1 683.0,415.9 682.5,418.2 684.4,413.9 685.8,416.9 687.0,413.8 687.6,416.6 687.9,412.2 690.6,414.3 690.6,410.7 693.1,413.3 692.9,409.5 694.2,412.1 696.3,408.0 698.4,410.6 697.6,406.7 699.0,409.8 700.6,406.1 701.3,408.6 702.6,405.0 702.7,407.3 704.8,403.2 704.9,405.2 705.5,401.2 707.0,403.6 708.7,399.0 707.8,401.7 708.8,397.7 711.3,399.8 710.9,395.2 712.3,397.5 713.1,393.2 714.2,395.5 715.2,391.3 714.4,393.2 716.6,389.3 716.5,391.4 718.1,387.4 720.3,389.7 721.6,385.8 721.9,388.6 721.8,384.2 723.9,386.2 724.9,382.8 724.6,385.6 725.3,381.9 725.6,383.2 726.5,378.8 729.0,380.6 729.7,376.5 729.0,378.9 729.2,374.0 731.3,375.8 730.9,371.8 731.8,373.9 734.0,369.7 733.9,371.7 733.9,367.1 733.9,369.4 734.4,365.6 735.8,368.0 737.5,364.3 737.3,366.4 737.1,361.4 738.9,362.1 739.7,357.6 739.8,360.5 739.9,356.2 742.3,358.8 741.7,354.5 744.0,357.3 744.9,353.1 746.4,355.7 745.9,350.8 748.6,352.9 748.8,348.6 748.4,351.7 750.1,347.8 752.7,350.3 752.6,346.3 753.2,348.9 755.5,344.9 755.0,348.3 757.1,345.1 757.2,348.8 759.4,346.6 760.0,351.0 760.8,348.7 761.0,353.0 762.6,351.2 763.1,354.9 764.4,351.5 765.1,356.0 767.4,354.4 766.3,359.0 768.9,356.9 768.6,360.4 770.6,358.2 770.7,361.3 773.3,358.9 773.5,362.8 775.0,360.6 776.0,364.5 775.0,362.4 776.9,366.8 777.4,365.8 777.7,370.5 778.3,368.3 778.6,372.5 781.0,370.2 779.6,374.4 780.5,372.3 781.1,376.6 782.3,374.3 782.6,378.4 783.8,375.9 783.9,379.7 784.8,377.9 784.7,382.5 786.2,380.2 787.5,384.6 788.7,382.0 788.6,386.6 789.8,382.4 789.8,384.3 789.6,379.4 790.9,381.5 790.3,377.0 790.6,381.8 792.9,379.9 792.0,383.8 794.4,381.4 794.5,383.2 795.4,378.8 794.7,380.9 796.6,376.9 796.0,378.8 797.7,374.7 798.3,376.7 796.8,371.8 797.3,375.7 798.8,373.4 799.2,378.3 798.6,376.6 799.8,380.9 798.7,378.4 799.7,383.3 801.4,378.6 802.3,381.2 802.8,376.9 803.4,379.1 805.7,375.0 805.7,378.5 808.3,375.3 808.5,378.3 809.6,374.4 810.1,377.0 812.4,372.6 813.0,375.0 814.5,371.4 815.3,374.2 816.8,370.5 818.5,374.4 819.4,370.6 819.0,372.2 820.9,367.4 820.3,369.4 822.2,365.1 822.7,367.0 824.6,362.8 823.9,364.0 826.3,360.0 827.4,362.6 828.2,358.0 829.5,360.5 830.4,357.1 831.5,360.1 833.4,357.2 834.9,360.4 835.4,357.1 837.2,360.9 838.3,357.3 839.3,360.4 839.5,357.2 842.2,360.0 843.0,356.5 842.7,358.2 844.0,353.9 844.8,356.0 847.1,353.1 847.0,356.6 847.8,353.9 848.3,358.0 850.2,355.8 851.3,359.5 854.0,356.3 855.1,359.7 856.0,356.1 855.6,360.4 857.1,357.5 858.5,361.1 860.2,359.2 859.9,363.4 861.6,360.8 861.4,364.7 863.5,362.4 865.6,365.7 865.2,362.5 866.6,366.1 867.2,364.0 870.2,367.8 869.6,364.6 872.1,368.1 872.7,365.7 874.4,369.4 875.4,367.0 875.3,372.5 875.7,370.1 877.8,373.7 879.7,371.3 880.2,373.9 882.2,369.9 883.9,372.4 884.4,368.8 885.1,372.6 885.9,368.9 888.4,371.5 889.3,368.1 889.9,372.6 891.0,370.1 894.4,373.3 894.4,369.5 895.7,372.3 898.0,370.1 897.1,374.2 899.5,372.0 899.4,377.0 901.3,375.0 902.3,378.0 903.2,374.6 904.7,379.4 905.0,377.4 904.6,382.0 905.2,380.6 907.2,385.4 907.9,383.2 908.3,388.0 908.0,385.5 908.1,389.6 909.4,387.2 908.6,391.6 910.6,390.1 911.5,394.1 910.8,391.3 910.6,395.0 912.5,393.2 912.5,398.5 913.4,396.5 914.0,400.6 913.8,398.5 914.9,403.0 916.3,401.4 915.8,405.7 915.2,404.7 916.6,409.3 917.4,406.9 916.1,411.3 917.2,409.3 918.8,412.8 917.5,410.5 918.9,415.7 919.9,414.6 918.4,418.8 918.6,417.1 918.8,421.9 921.1,420.1 921.6,424.9 920.2,422.8 920.6,427.1 921.3,425.3 921.3,429.1 921.1,427.2 923.2,432.0 923.8,430.1 923.5,435.1 922.8,433.3 922.9,435.3 924.4,430.4 923.6,431.9 925.5,427.4 925.2,428.3 925.1,423.6 924.2,426.1 924.9,422.8 925.6,424.4 925.6,419.2 927.4,420.8 926.3,416.7 928.1,419.0 928.1,414.2 927.8,415.4 929.3,410.8 928.4,412.5 929.4,407.7 930.2,410.1 929.8,405.7 931.3,408.3 930.9,403.5 932.1,404.9 931.2,400.1 933.4,402.2 933.2,397.3 932.7,399.2 934.4,395.1 934.5,397.8 934.5,394.6 935.5,396.3 936.4,390.7 937.2,392.5 937.3,388.1 937.5,390.7 938.5,387.0 939.6,389.5 940.1,385.9 942.1,387.8 942.5,383.4 944.0,385.8 944.7,382.0 944.7,384.0 945.3,379.4 944.7,381.2 946.6,376.9 948.2,378.9 948.4,374.4 948.7,377.6 949.9,373.7 948.7,375.5 950.9,371.6 950.4,373.5 951.4,369.4 951.4,371.8 953.1,366.8 951.8,367.6 953.7,363.5 954.5,366.3 954.8,362.2 954.3,364.2 956.7,360.1 956.5,361.7 957.8,358.0 957.4,360.4 960.0,356.1 961.5,358.4 961.1,354.3 963.9,356.9 964.8,353.1 965.9,356.2 966.0,354.1 968.7,357.2 967.8,352.5 969.6,354.8 970.4,349.8 969.5,351.7 971.1,347.1 970.3,349.8 972.4,346.0 973.0,347.9 974.6,343.3 975.6,345.8 976.6,341.9 978.1,344.4 978.1,340.6 977.6,342.6 978.5,337.8 978.9,339.6 980.5,335.3 981.5,338.2 982.9,333.9 983.4,336.4 985.3,334.0 985.2,337.8 985.4,334.4" fill="none" stroke="#0c7a72" stroke-width="6.0" stroke-linejoin="round" stroke-linecap="round"/>
<polyline clip-path="url(#pc)" points="113.0,589.0 113.0,590.3 113.0,591.6 113.0,592.9 113.0,594.2 113.0,595.5 113.0,596.9 113.0,598.2 113.0,599.5 113.0,600.8 113.0,602.1 113.0,603.4 113.0,604.7 113.0,606.0 113.0,607.3 113.0,608.6 113.0,610.0 113.0,611.3 113.0,612.6 113.0,613.9 113.0,615.2 113.0,616.5 113.0,617.8 113.0,619.1 113.0,620.4 113.0,621.7 113.0,623.0 113.0,624.4 113.0,625.7 113.0,627.0 113.0,628.3 113.0,629.6 113.0,630.9 113.0,632.2 113.0,633.5 113.0,634.8 113.0,636.1 113.0,637.5 113.0,638.8 113.0,640.1 113.0,641.4 113.0,642.7 113.0,644.0 114.0,643.2 115.0,642.5 115.9,641.8 116.9,640.3 117.0,640.2 116.7,637.6 116.9,637.5 117.4,634.8 117.7,635.1 117.7,632.5 117.1,632.6 116.8,630.2 116.9,630.0 117.6,627.4 118.1,627.2 117.9,624.3 117.8,624.1 118.3,621.7 117.1,621.5 117.4,619.2 117.9,619.4 117.4,617.1 118.6,617.0 118.2,614.0 117.7,614.1 118.1,611.4 117.8,611.5 118.5,608.9 117.8,609.0 118.7,606.5 118.1,606.2 119.1,603.7 119.0,603.9 119.1,601.7 118.0,601.7 119.2,598.5 119.3,598.6 118.7,595.9 118.5,595.9 119.0,593.7 119.7,594.2 119.3,591.8 119.3,591.8 120.1,589.2 120.3,589.1 119.6,586.3 121.0,586.3 120.7,584.0 121.1,584.0 120.8,581.5 121.3,581.5 121.0,579.1 122.1,579.0 121.3,576.4 122.5,576.5 122.7,574.1 122.4,574.2 122.1,571.2 122.8,571.1 123.3,568.5 123.6,568.5 123.5,565.9 124.3,566.0 124.4,563.5 124.4,563.4 124.9,560.6 124.5,560.5 124.9,558.2 125.2,558.2 126.0,555.7 125.8,555.8 125.9,553.3 126.8,553.3 126.9,550.8 127.1,550.8 126.7,548.5 126.7,548.3 127.9,545.7 127.3,545.6 128.5,543.3 129.2,543.5 129.5,540.9 129.3,540.7 130.5,538.0 130.2,538.4 131.2,536.1 131.1,535.9 132.2,533.3 132.2,533.3 132.3,530.6 132.9,530.5 133.0,528.1 134.4,528.0 134.8,525.4 135.0,525.5 135.2,523.1 135.5,523.3 135.6,520.8 136.6,520.8 136.9,518.2 136.6,518.2 137.4,515.2 137.3,514.9 138.5,512.4 139.1,513.1 139.2,510.4 139.0,510.4 139.4,507.5 140.1,508.2 140.7,506.0 141.4,506.3 142.0,503.8 142.6,504.1 143.3,501.5 143.9,501.3 144.9,498.9 145.9,499.7 146.9,497.5 147.9,497.7 148.9,494.8 149.9,495.4 151.0,493.3 152.0,493.7 153.0,491.7 154.0,492.4 154.8,490.2 155.7,490.7 156.5,488.4 157.3,488.8 158.2,486.5 159.0,486.9 160.0,484.5 161.0,484.9 162.1,483.1 163.1,484.1 164.1,481.8 165.1,482.5 166.1,480.6 167.1,481.4 168.1,479.5 169.1,480.2 170.1,477.8 171.1,478.2 172.2,475.5 173.2,476.0 174.2,473.8 175.4,474.8 176.7,472.9 178.0,473.6 179.2,471.5 180.5,472.1 181.7,470.3 183.0,470.9 184.3,469.1 185.5,469.9 186.8,468.3 188.1,469.1 189.3,467.2 190.6,468.5 191.8,466.6 192.8,467.2 193.7,464.8 194.7,465.6 195.6,463.7 196.9,465.2 198.2,464.0 199.4,465.4 200.5,462.9 201.5,463.3 202.6,460.8 203.7,463.5 204.8,463.1 205.9,465.3 207.0,465.1 207.9,467.7 208.9,467.3 209.8,469.6 210.8,469.3 212.0,471.2 213.3,470.1 214.6,471.3 215.8,469.9 217.1,470.7 218.4,468.8 219.6,469.4 220.9,467.8 222.1,468.9 223.4,466.9 224.7,467.9 225.9,466.2 227.2,467.1 228.4,465.5 229.7,466.4 231.0,464.7 232.2,465.7 233.5,463.8 234.8,464.5 236.0,462.7 237.3,463.4 238.5,461.4 239.8,463.3 241.1,462.5 242.3,464.3 243.6,463.3 244.6,463.7 245.6,461.0 246.6,461.5 247.6,459.3 248.6,460.0 249.9,458.2 251.2,459.0 252.4,457.0 253.4,459.3 254.3,458.9 255.3,461.5 256.2,461.3 257.0,461.9 257.8,459.3 258.5,459.8 259.3,457.5 260.1,458.0 261.1,455.5 262.1,455.8 263.1,453.4 264.1,453.5 265.1,451.2 266.2,451.7 267.2,449.4 268.2,449.9 269.2,447.5 270.2,447.9 271.2,445.8 272.2,446.1 273.2,443.8 274.2,444.6 275.2,442.7 276.2,445.0 277.1,444.9 278.1,447.2 279.0,447.1 279.6,449.9 280.1,449.9 280.7,452.9 281.2,452.9 281.7,455.1 282.3,454.9 282.8,457.5 283.9,457.3 285.0,459.5 286.1,458.6 287.2,460.8 288.4,458.5 289.5,459.2 290.6,457.4 291.8,458.8 292.9,457.2 294.2,457.8 295.4,455.5 296.7,456.3 298.0,454.5 299.2,455.5 300.5,453.1 301.7,453.8 303.0,451.9 304.3,452.8 305.5,450.8 306.6,451.5 307.6,449.4 308.7,450.2 309.7,447.9 310.8,448.4 311.8,447.0 312.7,447.8 313.6,445.4 314.5,445.6 315.5,443.4 316.4,443.9 317.3,441.9 318.2,442.2 318.9,439.8 319.6,440.1 320.3,438.2 321.0,438.7 321.8,435.9 322.5,435.9 323.2,433.3 323.8,433.5 324.4,431.2 324.9,431.3 325.5,428.7 326.1,429.1 326.7,426.7 327.2,426.9 328.0,425.0 328.8,425.4 329.5,423.3 329.9,425.7 330.4,425.6 330.8,428.0 331.2,427.8 331.6,430.4 332.0,430.2 332.2,432.8 332.3,432.7 332.4,435.6 332.5,435.5 332.6,438.3 332.7,438.4 332.8,441.0 333.0,441.0 333.1,443.4 333.2,443.0 333.3,445.6 333.4,445.5 333.5,448.2 333.6,448.4 333.7,451.2 333.8,451.4 333.9,454.2 334.0,454.2 334.1,456.5 334.2,456.3 334.3,458.9 334.4,458.9 334.4,461.4 334.5,461.6 334.6,464.1 334.7,463.9 334.8,466.1 335.1,466.0 335.4,468.9 335.7,469.0 336.0,471.8 336.3,472.0 336.6,474.6 336.9,472.0 337.2,472.2 337.6,469.6 337.9,469.6 338.2,467.0 338.5,468.0 338.9,465.6 339.1,465.7 339.3,463.1 339.5,463.0 339.7,460.4 339.9,460.6 340.1,457.8 340.3,457.7 340.5,455.0 340.7,454.9 340.9,452.3 341.2,452.6 341.5,450.0 341.9,450.1 342.2,447.2 342.5,447.2 343.5,445.2 344.4,446.0 345.0,445.5 345.7,447.8 346.3,447.5 346.9,450.0 347.1,450.1 347.4,452.8 347.6,452.2 347.8,454.9 348.0,454.6 348.2,457.1 348.4,457.1 348.6,460.4 348.9,460.3 349.1,462.7 349.3,462.5 349.5,465.4 349.7,465.3 349.9,468.0 350.1,468.1 350.3,470.6 350.5,470.4 350.7,473.0 350.9,472.8 351.1,475.0 351.3,474.9 351.5,477.8 351.7,478.0 351.8,480.7 352.0,480.5 352.2,483.2 352.6,482.7 352.9,484.9 353.3,484.8 353.6,487.5 354.0,487.4 354.3,490.3 354.7,490.4 355.0,492.9 355.4,492.8 355.7,492.8 356.0,489.8 356.2,489.6 356.5,487.0 356.8,487.1 357.1,484.5 357.4,484.2 357.6,481.3 357.9,481.4 358.3,479.2 358.6,479.4 359.0,476.8 359.3,476.6 359.7,474.1 360.0,474.0 360.4,471.4 360.7,471.5 361.1,468.7 361.9,469.2 362.8,466.5 363.6,467.1 364.4,464.7 365.3,465.1 366.1,462.8 367.1,463.0 368.1,460.7 369.1,460.8 370.2,458.3 371.2,458.7 372.1,456.6 373.1,457.2 374.0,454.9 375.0,455.3 376.0,453.0 376.9,453.2 377.9,450.9 378.8,451.1 379.7,448.7 380.6,449.1 381.5,446.8 382.4,447.0 383.3,444.5 384.2,444.8 385.1,442.4 385.9,442.7 386.8,440.5 387.7,441.3 388.6,439.0 389.6,439.2 390.5,436.7 391.5,437.7 392.1,438.1 392.7,440.8 393.3,440.6 393.9,443.1 394.5,442.8 394.7,445.2 394.8,445.3 394.9,448.0 395.0,447.9 395.2,450.4 395.3,450.0 395.4,452.7 395.5,452.8 395.7,455.5 395.8,455.5 395.9,458.4 396.0,458.5 396.2,460.9 396.3,460.8 396.4,463.2 396.5,463.0 396.7,465.6 396.8,465.5 396.9,468.3 397.0,468.4 397.1,471.2 397.2,471.1 397.3,473.6 397.4,473.6 397.5,476.7 397.6,477.1 397.7,479.8 397.8,479.7 397.9,482.3 398.0,482.4 398.1,485.1 398.2,484.5 398.3,486.9 398.4,486.9 398.5,490.4 398.6,490.5 398.7,492.8 398.6,492.1 398.5,495.1 398.4,495.4 398.3,498.3 398.2,498.0 398.1,500.4 398.0,500.3 397.9,502.6 397.8,502.6 397.7,505.6 397.6,505.8 397.5,508.6 397.4,508.7 397.3,511.2 397.3,511.1 397.4,513.8 397.4,513.5 397.5,515.9 397.5,515.9 397.5,518.7 397.6,518.8 397.6,521.3 397.7,520.9 397.7,523.7 397.8,523.3 397.8,525.9 397.8,526.1 397.9,529.4 397.9,529.2 398.0,531.9 398.0,532.0 398.0,534.4 398.1,534.1 398.1,536.5 398.2,536.3 398.2,538.9 398.2,539.0 398.3,542.1 398.3,541.8 398.4,544.5 398.4,544.4 398.5,547.0 398.5,547.2 398.5,549.4 398.6,549.1 398.6,551.7 398.7,551.7 398.7,554.6 398.7,554.5 398.8,557.1 398.8,557.3 398.9,559.9 398.9,559.7 399.0,562.2 399.0,562.0 399.0,564.7 399.1,564.9 399.1,567.7 399.2,567.6 399.2,570.4 399.2,570.3 399.3,572.5 399.3,572.4 399.4,575.4 399.4,575.3 399.4,578.1 399.5,578.2 399.5,581.0 399.6,580.8 399.6,583.6 399.7,583.7 399.7,586.3 399.7,586.4 399.8,589.2 399.8,588.9 399.9,591.4 399.9,591.0 400.0,591.2 400.0,588.7 400.1,589.2 400.1,586.3 400.2,586.0 400.3,583.2 400.3,583.4 400.4,581.0 400.4,580.7 400.5,577.9 400.5,578.1 400.6,575.8 400.7,576.0 400.7,573.3 400.8,573.0 400.8,570.4 400.9,570.7 401.0,567.8 401.0,567.6 401.1,564.6 401.1,564.8 401.2,562.5 401.3,562.6 401.3,559.8 401.4,560.1 401.4,557.3 401.5,557.1 401.5,554.6 401.6,554.9 401.7,552.4 401.7,552.4 401.8,549.2 401.8,549.1 401.9,546.5 402.0,546.5 402.0,544.1 402.1,544.3 402.1,541.7 402.2,542.1 402.2,539.4 402.3,539.5 402.4,537.1 402.4,537.1 402.5,534.2 402.5,534.4 402.6,531.6 402.7,532.1 402.7,529.1 402.8,529.0 402.8,526.4 402.9,526.6 403.0,524.2 403.0,524.0 403.1,521.1 403.1,521.2 403.2,518.4 403.2,518.6 403.3,516.0 403.4,516.0 403.4,513.4 403.5,513.7 403.5,511.1 403.6,510.9 403.7,508.1 403.8,508.1 403.9,505.2 404.0,505.2 404.1,502.8 404.2,503.4 404.3,500.6 404.4,500.3 404.5,497.5 404.6,497.8 404.7,495.4 404.8,495.4 404.9,492.3 405.0,492.4 406.1,490.1 407.1,490.7 408.2,488.8 408.7,491.4 409.3,491.3 409.8,493.5 410.4,493.1 410.9,495.6 411.5,495.6 412.0,498.1 412.6,498.0 413.0,498.2 413.4,495.3 413.8,495.0 414.2,492.6 414.5,493.1 414.9,490.5 415.3,490.4 415.7,487.1 415.9,487.4 416.1,485.0 416.4,485.4 416.6,482.7 416.8,483.1 417.0,480.5 417.2,480.7 417.4,478.0 417.6,477.6 417.8,474.8 418.0,474.8 418.3,472.2 418.7,472.2 419.1,470.0 419.5,470.5 419.9,467.6 420.4,467.4 420.8,464.8 421.2,465.1 421.6,462.8 422.0,462.8 422.8,460.0 423.6,460.4 424.4,458.1 425.2,458.5 426.0,456.2 426.8,456.6 427.6,454.1 428.4,454.3 429.6,452.0 430.9,452.7 432.1,450.7 433.4,451.5 434.7,449.8 435.9,450.7 437.2,449.0 438.4,449.7 439.7,447.9 441.0,448.8 442.2,446.7 443.5,447.5 444.8,445.5 446.0,446.2 447.3,444.3 448.5,445.3 449.8,443.6 451.1,444.7 452.3,443.2 453.6,444.3 454.9,442.7 456.1,443.1 457.4,441.0 458.6,441.7 459.9,439.7 461.2,440.8 462.5,439.5 463.8,440.8 465.0,439.5 466.3,441.6 467.6,440.8 468.8,442.9 470.1,442.1 470.6,444.5 471.2,444.1 471.7,446.6 472.3,446.1 472.8,448.5 473.3,448.5 473.9,451.1 474.1,451.1 474.3,453.5 474.5,453.2 474.7,456.0 474.9,456.1 475.0,458.7 475.2,458.7 475.4,461.3 475.6,461.0 475.8,463.5 476.0,463.5 476.2,465.8 476.4,465.8 476.6,468.8 476.7,468.9 476.9,471.5 477.0,470.9 477.2,473.4 477.3,473.4 477.4,476.3 477.6,476.1 477.7,479.2 477.9,479.2 478.0,481.4 478.2,481.2 478.3,484.0 478.5,483.7 478.6,486.6 478.8,486.6 478.9,489.3 479.2,488.9 479.6,491.0 479.9,490.8 480.2,493.9 480.5,493.8 480.8,496.3 481.1,496.0 481.5,498.7 482.3,498.4 483.1,500.7 484.0,500.3 484.5,500.6 485.0,498.2 485.6,498.0 486.1,495.4 486.6,495.5 487.1,493.1 487.6,493.0 488.0,489.9 488.5,490.0 488.9,487.5 489.4,487.7 489.8,485.0 490.3,485.0 491.6,483.1 492.8,484.2 494.1,482.5 494.8,484.9 495.6,484.6 496.3,487.1 497.1,486.5 497.9,488.9 498.8,488.7 499.8,491.1 500.7,490.6 501.7,492.7 502.3,490.1 502.9,490.4 503.5,487.9 504.2,488.3 504.8,486.1 505.4,486.4 506.0,484.0 506.5,484.0 507.1,481.6 507.6,482.3 508.1,479.8 508.7,480.0 509.2,477.6 510.2,477.9 511.1,475.2 512.1,475.4 513.0,473.7 514.3,475.7 515.5,474.7 516.8,476.0 517.7,473.6 518.7,474.2 519.6,471.9 520.6,472.3 521.8,470.7 523.1,472.2 524.4,471.2 525.0,473.9 525.6,473.2 526.3,475.2 526.9,474.8 527.5,477.4 528.2,477.0 528.7,479.5 529.2,479.6 529.8,482.1 530.3,482.0 530.9,484.5 531.4,484.1 531.9,486.3 532.9,483.9 533.8,484.7 534.8,482.5 535.7,482.7 536.4,480.0 537.0,480.5 537.6,478.2 538.3,478.5 538.9,475.8 539.5,476.3 540.1,473.6 540.8,473.9 541.4,471.4 542.0,471.7 542.7,469.2 543.3,469.6 543.9,467.0 544.6,467.3 545.2,465.0 545.8,465.4 546.9,462.8 548.0,463.1 549.1,460.6 550.2,460.9 551.0,460.6 551.8,463.2 552.5,462.9 553.3,465.5 554.0,465.0 554.3,467.5 554.6,467.3 554.8,469.8 555.1,469.6 555.3,472.0 555.6,471.9 555.9,474.7 556.1,474.4 556.4,477.2 556.7,477.0 556.9,479.7 557.2,479.6 557.5,482.1 557.9,482.0 558.2,484.7 558.6,484.6 558.9,487.3 559.3,487.4 559.6,490.1 560.0,490.0 560.3,492.6 560.8,489.9 561.4,490.1 561.9,487.5 562.4,488.2 562.9,485.2 563.0,485.3 563.2,482.3 563.3,482.6 563.5,480.0 563.7,480.4 563.8,477.7 564.0,478.2 564.1,475.0 564.3,475.2 564.4,472.4 564.6,472.5 564.8,469.6 565.0,470.1 565.3,467.6 565.5,467.7 565.8,465.3 566.0,465.4 566.3,462.6 566.5,462.7 566.8,460.1 567.0,460.5 567.3,457.7 567.7,457.6 568.1,454.7 568.5,455.1 569.0,452.7 569.4,453.0 569.8,449.6 570.2,449.6 570.6,446.6 571.1,446.8 571.8,444.4 572.6,445.3 573.3,442.9 574.1,443.1 574.9,440.3 575.9,441.0 576.9,439.2 577.9,440.1 578.9,438.2 579.9,439.3 581.2,437.4 582.4,438.3 583.7,436.3 585.0,437.9 586.2,436.2 586.6,439.1 587.0,439.0 587.3,441.7 587.7,441.1 588.1,443.8 588.5,443.6 588.8,446.7 589.4,444.0 589.9,444.3 590.5,441.3 591.0,442.0 591.5,439.8 592.1,440.2 592.6,437.7 593.2,438.1 593.8,435.0 594.3,435.1 594.9,432.5 595.5,433.0 596.1,430.5 596.6,431.0 597.2,428.2 597.8,428.4 598.4,426.1 598.9,426.5 599.6,423.9 600.3,424.5 601.0,421.9 601.7,422.3 602.4,419.5 603.1,419.6 603.8,416.6 604.5,417.0 605.2,414.8 606.1,415.3 606.9,412.5 607.8,412.8 608.6,410.3 609.5,410.7 610.3,408.1 611.2,408.9 612.2,406.3 613.1,407.0 614.1,404.8 615.3,406.9 616.6,405.9 617.9,407.7 619.1,406.6 620.4,408.3 621.7,406.2 622.9,406.9 624.2,404.6 625.4,405.8 626.7,403.8 628.0,404.9 628.9,404.5 629.9,406.7 630.8,406.2 631.7,408.3 632.5,405.5 633.3,405.5 634.0,402.7 634.8,403.6 635.5,401.1 636.3,401.6 637.0,399.2 637.7,399.5 638.4,396.6 639.1,397.0 639.9,394.5 640.6,394.7 641.8,392.8 643.1,393.8 644.4,391.8 645.6,392.5 646.6,389.9 647.7,390.5 648.7,388.2 649.7,389.0 650.7,386.1 651.9,387.1 653.2,385.0 654.5,385.9 655.7,383.9 657.0,385.7 658.3,384.4 659.5,386.0 660.8,384.5 662.0,386.2 663.3,385.3 664.6,387.6 665.8,386.7 667.1,388.8 668.1,386.6 669.2,387.6 670.2,385.3 671.3,386.2 672.3,384.1 673.4,384.7 674.7,382.7 675.9,383.6 677.2,381.8 678.4,382.4 679.7,380.6 681.0,381.6 682.2,379.7 683.5,381.0 684.8,379.4 686.0,380.5 687.3,378.8 688.5,380.0 689.8,378.6 691.1,380.5 692.3,379.1 693.6,380.5 694.9,379.1 696.1,381.0 697.4,379.8 698.6,381.5 699.9,380.4 701.2,382.5 702.2,380.2 703.2,381.1 704.2,378.7 705.2,379.5 706.2,377.1 707.1,378.0 708.0,375.5 709.0,376.4 709.9,374.1 710.8,374.9 711.7,372.2 712.6,372.6 713.7,370.4 714.7,371.3 715.8,369.0 716.8,369.5 717.9,367.2 718.9,368.0 719.9,365.8 720.8,366.9 721.8,364.6 722.7,365.5 723.3,362.6 724.0,362.9 724.6,360.4 725.2,361.4 725.9,358.9 726.5,359.6 727.1,356.9 727.8,357.2 728.4,354.1 729.0,354.2 729.7,351.8 730.3,352.7 730.9,349.8 731.6,350.0 732.2,347.3 732.8,347.7 733.4,345.1 734.1,345.6 734.7,343.1 735.3,343.5 736.0,340.8 736.6,341.0 737.1,338.3 737.7,338.5 738.2,335.9 738.8,336.8 739.3,334.7 739.8,335.1 740.4,332.6 740.9,332.9 741.5,329.9 742.0,330.0 742.6,327.6 743.1,328.3 743.6,325.5 744.2,325.9 744.8,323.2 745.4,323.5 746.1,320.7 746.7,321.3 747.3,318.8 748.0,319.4 748.6,317.0 749.2,317.4 749.9,314.9 750.7,315.1 751.4,312.5 752.1,312.9 752.8,310.2 753.6,310.6 754.3,307.8 755.2,308.5 756.2,306.3 757.1,307.3 758.1,304.7 759.3,305.7 760.6,303.8 761.8,304.8 763.1,302.9 764.4,304.7 765.6,303.5 766.9,304.9 768.2,303.3 769.4,304.7 770.7,303.1 771.9,304.8 773.2,303.3 774.5,304.8 775.7,303.4 777.0,305.5 778.3,304.7 779.5,306.6 780.8,305.3 782.0,307.2 783.0,306.4 784.1,308.4 785.1,307.8 786.1,310.4 787.1,309.8 788.1,312.4 789.1,311.7 790.1,314.2 791.1,313.8 792.1,316.2 793.1,315.6 794.2,317.8 795.2,317.4 796.2,319.8 797.2,319.2 798.2,321.1 799.3,319.8 800.3,322.0 801.4,321.1 802.4,323.4 803.5,322.3 804.5,324.4 805.5,323.9 806.5,326.6 807.5,325.6 808.5,327.7 809.5,326.8 810.4,329.3 811.4,328.6 812.3,330.7 813.6,329.4 814.9,331.0 816.1,329.9 817.4,331.8 818.6,330.0 819.9,331.4 821.2,329.9 822.4,331.5 823.7,329.6 825.0,330.5 826.2,327.7 827.5,328.8 828.8,327.3 830.1,328.7 831.3,326.5 832.6,327.5 833.9,325.5 835.1,326.9 836.4,325.2 837.4,326.2 838.3,324.1 839.2,324.9 840.2,322.3 841.3,322.9 842.4,320.7 843.4,321.8 844.5,319.5 845.6,320.3 846.7,318.3 847.8,319.1 849.0,316.9 850.3,317.8 851.6,315.9 852.8,317.1 854.1,315.4 855.3,316.7 856.6,314.9 857.9,315.5 859.1,313.7 860.4,315.4 861.7,313.9 862.9,314.9 864.2,312.5 865.4,313.6 866.7,312.0 868.0,313.3 869.2,311.0 870.5,311.6 871.7,309.7 873.0,310.8 874.3,308.9 875.5,310.3 876.8,308.4 878.1,309.5 879.3,307.6 880.6,308.7 881.8,306.8 883.1,307.8 884.4,305.6 885.6,306.4 886.9,304.5 888.2,305.6 889.4,303.6 890.7,304.6 891.9,302.4 893.2,303.4 894.5,301.9 895.7,303.2 897.0,301.4 898.3,302.5 899.5,300.6 900.8,302.0 902.0,301.1 903.3,302.7 904.6,300.8 905.8,302.5 907.1,301.4 908.4,303.2 909.6,302.3 910.9,304.0 912.1,302.8 913.4,304.8 914.7,303.4 915.9,305.0 917.2,303.0 918.4,304.4 919.7,302.6 921.0,304.2 922.2,302.9 923.5,304.8 924.8,303.2 926.0,304.0 927.3,302.0 928.5,303.6 929.8,302.2 931.1,303.4 932.3,301.2 933.6,302.2 934.9,300.0 936.1,300.9 937.4,298.8 938.6,299.9 939.7,297.9 940.8,298.9 941.9,296.9 943.0,297.6 944.1,294.8 945.1,295.5 946.2,293.9 947.4,294.9 948.6,293.3 949.8,294.3 951.0,292.5 952.2,294.1 953.5,292.6 954.7,294.3 956.0,292.7 957.3,294.0 958.5,292.8 959.8,294.4 961.1,292.7 962.3,293.9 963.6,292.7 964.8,295.1 966.1,294.1 967.4,295.7 968.6,294.1 969.9,296.0 971.2,295.0 972.4,296.9 973.7,295.6 974.9,297.6 976.2,296.4 977.5,298.3 978.7,297.0 980.0,298.0 981.3,296.3 982.3,298.8 983.4,298.2 984.4,300.7 984.7,300.7 985.0,303.9 985.3,303.5 985.6,306.0 985.9,305.7 986.2,308.5 986.6,308.1 987.6,310.3 988.6,309.6" fill="none" stroke="#129ed9" stroke-width="6.0" stroke-linejoin="round" stroke-linecap="round"/>
<rect x="113.0" y="20.3" width="875.20" height="699.20" fill="none" stroke="#000" stroke-width="3.8"/>
<rect x="114.9" y="716" width="13.4" height="5.3" fill="#0c7a72"/>
<rect x="126.3" y="50.0" width="37.7" height="6" fill="#a11b48"/>
<text x="176.2" y="60.8" class="t">RF2</text>
<rect x="126.3" y="76.7" width="37.7" height="6" fill="#0c7a72"/>
<text x="176.2" y="89.6" class="t">RF3</text>
<rect x="126.3" y="103.1" width="37.7" height="6" fill="#129ed9"/>
<text x="176.2" y="118.8" class="t">RF4</text>
<text x="96.5" y="33.3" text-anchor="end" class="t">0</text>
<text x="95.7" y="101.7" text-anchor="end" class="t">10</text>
<rect x="47.4" y="93.3" width="16.4" height="3.2" fill="#000"/>
<text x="95.7" y="171.6" text-anchor="end" class="t">20</text>
<rect x="47.4" y="163.2" width="16.4" height="3.2" fill="#000"/>
<text x="95.7" y="241.6" text-anchor="end" class="t">30</text>
<rect x="47.4" y="233.2" width="16.4" height="3.2" fill="#000"/>
<text x="95.7" y="311.5" text-anchor="end" class="t">40</text>
<rect x="47.4" y="303.1" width="16.4" height="3.2" fill="#000"/>
<text x="95.7" y="381.4" text-anchor="end" class="t">50</text>
<rect x="47.4" y="373.0" width="16.4" height="3.2" fill="#000"/>
<text x="95.7" y="451.3" text-anchor="end" class="t">60</text>
<rect x="47.4" y="442.9" width="16.4" height="3.2" fill="#000"/>
<text x="95.7" y="521.2" text-anchor="end" class="t">70</text>
<rect x="47.4" y="512.8" width="16.4" height="3.2" fill="#000"/>
<text x="95.7" y="591.2" text-anchor="end" class="t">80</text>
<rect x="47.4" y="582.8" width="16.4" height="3.2" fill="#000"/>
<text x="95.7" y="661.1" text-anchor="end" class="t">90</text>
<rect x="47.4" y="652.7" width="16.4" height="3.2" fill="#000"/>
<text x="95.7" y="731.0" text-anchor="end" class="t">100</text>
<rect x="31.3" y="722.6" width="16.4" height="3.2" fill="#000"/>
<text x="111.0" y="754" text-anchor="middle" class="t">0</text>
<text x="198.5" y="754" text-anchor="middle" class="t">5</text>
<text x="286.0" y="754" text-anchor="middle" class="t">10</text>
<text x="373.6" y="754" text-anchor="middle" class="t">15</text>
<text x="461.1" y="754" text-anchor="middle" class="t">20</text>
<text x="548.6" y="754" text-anchor="middle" class="t">25</text>
<text x="636.1" y="754" text-anchor="middle" class="t">30</text>
<text x="723.6" y="754" text-anchor="middle" class="t">35</text>
<text x="811.2" y="754" text-anchor="middle" class="t">40</text>
<text x="898.7" y="754" text-anchor="middle" class="t">45</text>
<text x="986.2" y="754" text-anchor="middle" class="t">50</text>
<text x="553.5" y="803" text-anchor="middle" class="t" style="letter-spacing:0.2px">FREQUENCY (GHz)</text>
<text transform="translate(32.6,371.7) rotate(-90)" text-anchor="middle" class="t" style="letter-spacing:0.11px">ISOLATION FOR RFC TO RFx OFF(dB)</text>
</svg>
</body></html>
